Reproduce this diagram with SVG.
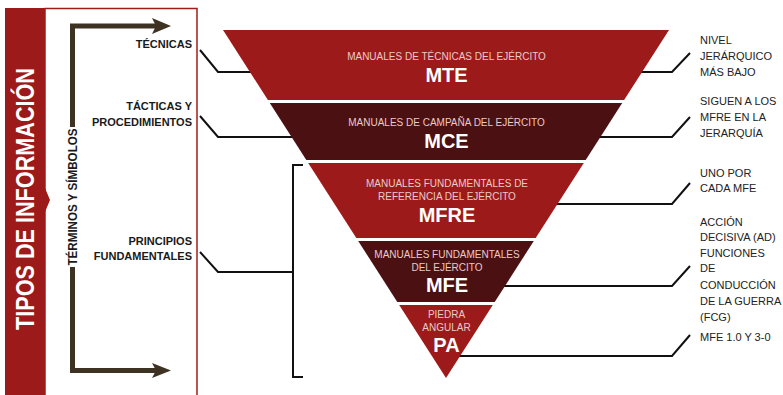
<svg xmlns="http://www.w3.org/2000/svg" width="783" height="395" viewBox="0 0 783 395">
<style>
.red{fill:#9c1b1a}
.dark{fill:#4b1011}
.sub{font-family:"Liberation Sans",Arial,sans-serif;font-size:10px;fill:#ecc9c9;text-anchor:middle}
.big{font-family:"Liberation Sans",Arial,sans-serif;font-size:20px;font-weight:bold;fill:#ffffff;text-anchor:middle}
.lab{font-family:"Liberation Sans",Arial,sans-serif;font-size:11px;font-weight:bold;fill:#1a1a1a;text-anchor:end}
.note{font-family:"Liberation Sans",Arial,sans-serif;font-size:11px;fill:#222222}
.con{fill:none;stroke:#111111;stroke-width:2}
.brown{fill:none;stroke:#3e3223;stroke-width:5;stroke-linejoin:miter;stroke-linecap:butt}
.ah{fill:#3e3223}
</style>
<rect width="783" height="395" fill="#ffffff"/>
<g id="panel">
<rect x="45" y="8.5" width="152" height="400" fill="#ffffff" stroke="#a01c1c" stroke-width="1.5"/>
<polygon class="red" points="5,8 45,8 45,188 50,200 45,212 45,395 5,395"/>
<text transform="translate(34,199) rotate(-90)" font-family="'Liberation Sans',Arial,sans-serif" font-size="25" font-weight="bold" fill="#ffffff" text-anchor="middle" textLength="262" lengthAdjust="spacingAndGlyphs">TIPOS DE INFORMACIÓN</text>
</g>
<g id="terminos">
<path class="brown" d="M156,26 H72.5 V127"/>
<path class="brown" d="M72.5,267 V370.5 H156"/>
<polygon class="ah" points="152,18 171,26 152,34 156,26"/>
<polygon class="ah" points="152,363 171,370.5 152,378 156,370.5"/>
<text transform="translate(77,197) rotate(-90)" font-family="'Liberation Sans',Arial,sans-serif" font-size="12" font-weight="bold" fill="#1a1a1a" text-anchor="middle" textLength="137" lengthAdjust="spacingAndGlyphs">TÉRMINOS Y SÍMBOLOS</text>
</g>
<g id="left-labels">
<text class="lab" x="192" y="48">TÉCNICAS</text>
<text class="lab" x="192" y="110">TÁCTICAS Y</text>
<text class="lab" x="192" y="126">PROCEDIMIENTOS</text>
<text class="lab" x="192" y="245">PRINCIPIOS</text>
<text class="lab" x="192" y="260">FUNDAMENTALES</text>
</g>
<g id="connectors">
<polyline class="con" points="200,50 218,72 260,72"/>
<polyline class="con" points="200,116 218,137 300,137"/>
<polyline class="con" points="200,252 218,272 293,272"/>
<polyline class="con" points="303,165 293,165 293,377 303,377"/>
<polyline class="con" points="630,72 672,72 690,53"/>
<polyline class="con" points="590,137 672,137 690,117"/>
<polyline class="con" points="550,204 672,204 690,183"/>
<polyline class="con" points="498,286 672,286 690,266"/>
<polyline class="con" points="455,356 672,356 690,335"/>
</g>
<g id="MTE">
<polygon class="red" points="223,30 669,30 624.1,100 267.9,100"/>
<text class="sub" x="446.5" y="60">MANUALES DE TÉCNICAS DEL EJÉRCITO</text>
<text class="big" x="446.5" y="82">MTE</text>
</g>
<g id="MCE">
<polygon class="dark" points="269.8,103 622.2,103 585.7,160 306.3,160"/>
<text class="sub" x="446.5" y="126">MANUALES DE CAMPAÑA DEL EJÉRCITO</text>
<text class="big" x="446.5" y="148">MCE</text>
</g>
<g id="MFRE">
<polygon class="red" points="308.2,163 583.8,163 535.7,238 356.3,238"/>
<text class="sub" x="447" y="187">MANUALES FUNDAMENTALES DE</text>
<text class="sub" x="447" y="200">REFERENCIA DEL EJÉRCITO</text>
<text class="big" x="447" y="222">MFRE</text>
</g>
<g id="MFE">
<polygon class="dark" points="358.2,241 533.8,241 494.7,302 397.3,302"/>
<text class="sub" x="447" y="258">MANUALES FUNDAMENTALES</text>
<text class="sub" x="447" y="270.5">DEL EJÉRCITO</text>
<text class="big" x="447" y="292">MFE</text>
</g>
<g id="PA">
<polygon class="red" points="399.2,305 492.8,305 446,378"/>
<text class="sub" x="446.5" y="318">PIEDRA</text>
<text class="sub" x="446.5" y="331">ANGULAR</text>
<text class="big" x="446.5" y="352">PA</text>
</g>
<g id="right-notes">
<text class="note" x="700" y="44">NIVEL</text>
<text class="note" x="700" y="60">JERÁRQUICO</text>
<text class="note" x="700" y="76">MÁS BAJO</text>
<text class="note" x="700" y="105">SIGUEN A LOS</text>
<text class="note" x="700" y="121">MFRE EN LA</text>
<text class="note" x="700" y="137">JERARQUÍA</text>
<text class="note" x="700" y="177">UNO POR</text>
<text class="note" x="700" y="192">CADA MFE</text>
<text class="note" x="700" y="226">ACCIÓN</text>
<text class="note" x="700" y="241">DECISIVA (AD)</text>
<text class="note" x="700" y="257">FUNCIONES</text>
<text class="note" x="700" y="272">DE</text>
<text class="note" x="700" y="289">CONDUCCIÓN</text>
<text class="note" x="700" y="305">DE LA GUERRA</text>
<text class="note" x="700" y="321">(FCG)</text>
<text class="note" x="700" y="341">MFE 1.0 Y 3-0</text>
</g>
</svg>
